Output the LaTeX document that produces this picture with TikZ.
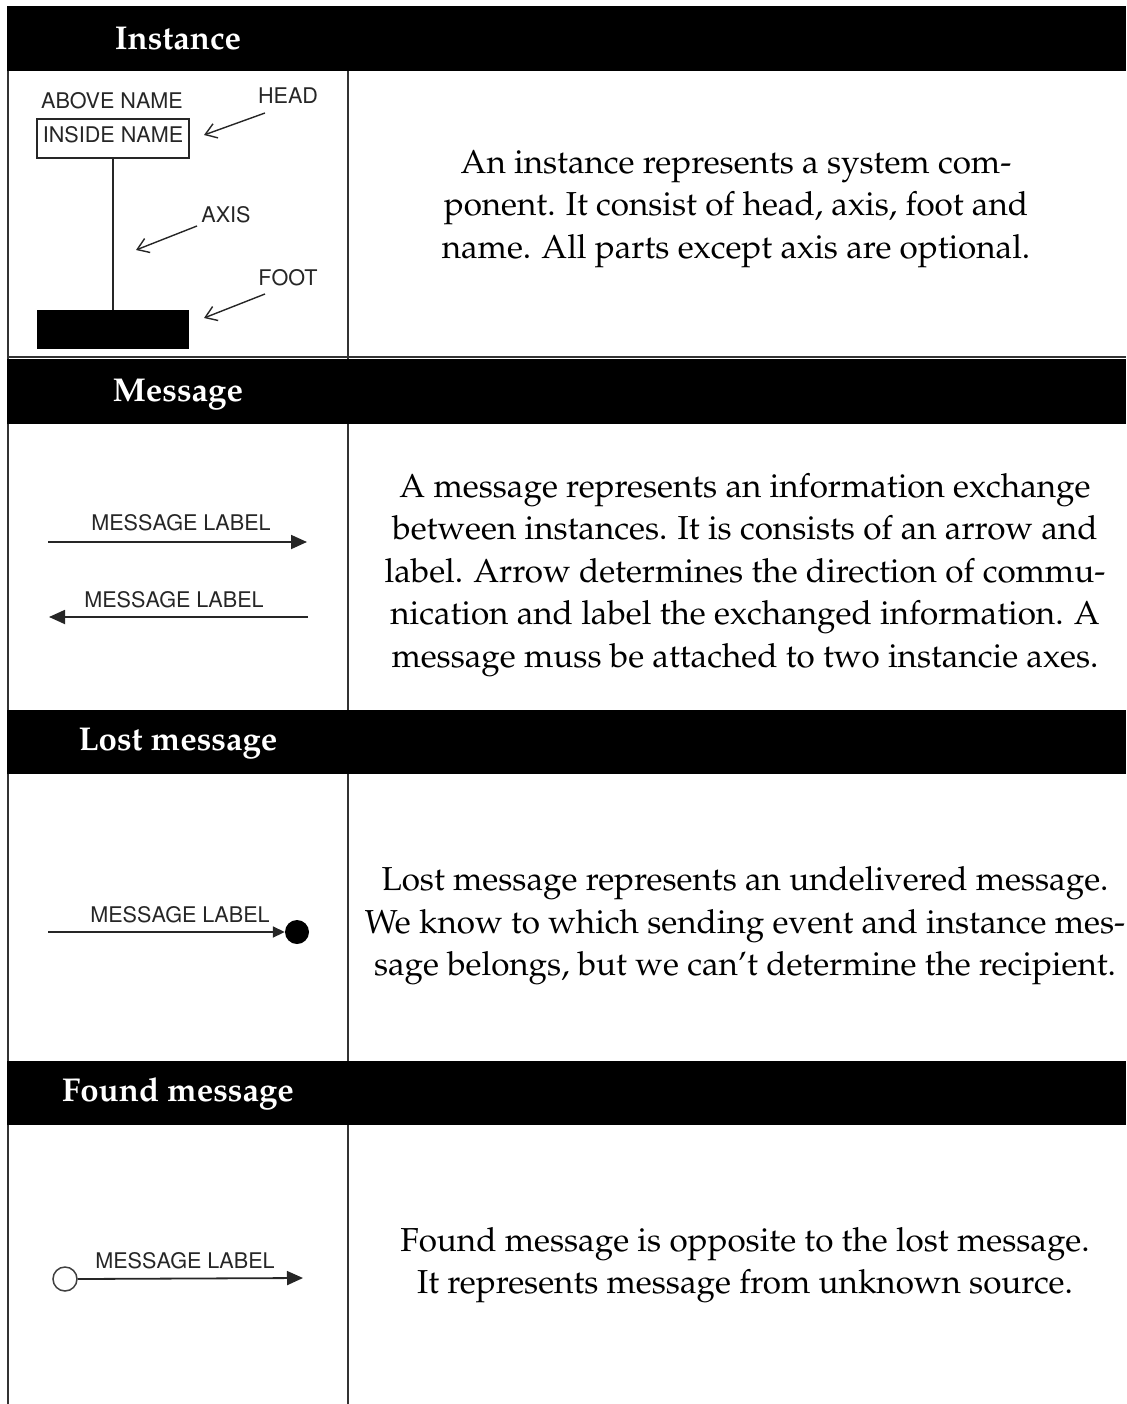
\documentclass[tikz,border=0pt]{standalone}
\usepackage[T1]{fontenc}
\usepackage{mathpazo}
\usepackage{helvet}
\usetikzlibrary{arrows.meta}
\begin{document}
\begin{tikzpicture}[x=1pt,y=-1pt,
  hdrbar/.style={fill=black},
  hdrtext/.style={text=white,anchor=base,inner sep=0pt,font=\fontsize{33}{40}\selectfont\bfseries},
  body/.style={align=center,inner sep=0pt,font=\fontsize{33.2}{42.5}\selectfont},
  lbl/.style={inner sep=0pt,text=black!85,font=\sffamily\fontsize{21.6}{24}\selectfont},
  gridline/.style={draw=black!80,line width=1.5pt},
  wire/.style={draw=black!85,line width=1.8pt},
  pointer/.style={draw=black!85,line width=1.4pt,-{Straight Barb[length=11pt,width=15pt,line width=1.4pt]}},
  msg/.style={draw=black!85,line width=1.8pt,-{Triangle[length=16pt,width=14pt]}},
  headbox/.style={draw=black!85,line width=1.8pt,fill=white,minimum width=152pt,minimum height=39pt,inner sep=0pt},
  footbox/.style={fill=black,minimum width=152pt,minimum height=39pt,inner sep=0pt}
]
\useasboundingbox (0,0) rectangle (1126,1404);

% table frame
\draw[gridline] (8,71) -- (8,1404);
\draw[gridline] (348,71) -- (348,1404);
\draw[gridline] (8,357) -- (1126,357);

% section bars
\fill[hdrbar] (7,6) rectangle (1126,71);
\fill[hdrbar] (7,359) rectangle (1126,424);
\fill[hdrbar] (7,710) rectangle (1126,774);
\fill[hdrbar] (7,1061) rectangle (1126,1125);
\node[hdrtext] (hInstance) at (178,50) {Instance};
\node[hdrtext] (hMessage) at (178,401) {Message};
\node[hdrtext] (hLost) at (178,750) {Lost message};
\node[hdrtext] (hFound) at (178,1101) {Found message};

% instance: head, axis, foot
\node[lbl] (abovename) at (112,101) {ABOVE NAME};
\node[headbox] (head) at (113,138.5) {};
\node[lbl] (insidename) at (113,135) {INSIDE NAME};
\node[footbox] (foot) at (113,329.5) {};
\draw[wire] (head.south) -- (foot.north);

\node[lbl] (headlbl) at (288,96) {HEAD};
\coordinate (headA) at (265,113);
\coordinate (headB) at (204,135);
\draw[pointer] (headA) -- (headB);

\node[lbl] (axislbl) at (226,215) {AXIS};
\coordinate (axisA) at (197,226);
\coordinate (axisB) at (136,250);
\draw[pointer] (axisA) -- (axisB);

\node[lbl] (footlbl) at (288,278) {FOOT};
\coordinate (footA) at (265,294);
\coordinate (footB) at (204,318);
\draw[pointer] (footA) -- (footB);

\node[body] (tInstance) at (736,209) {An instance represents a system com-\\ponent. It consist of head, axis, foot and\\name. All parts except axis are optional.};

% message
\node[lbl] (mlbl1) at (181,523) {MESSAGE LABEL};
\coordinate (m1a) at (48,542);
\coordinate (m1b) at (307,542);
\draw[msg] (m1a) -- (m1b);
\node[lbl] (mlbl2) at (174,600) {MESSAGE LABEL};
\coordinate (m2a) at (308,617);
\coordinate (m2b) at (49,617);
\draw[msg] (m2a) -- (m2b);

\node[body] (tMessage) at (745,575) {A message represents an information exchange\\between instances. It is consists of an arrow and\\label. Arrow determines the direction of commu-\\nication and label the exchanged information. A\\message muss be attached to two instancie axes.};

% lost message
\node[lbl] (llbl) at (180,915) {MESSAGE LABEL};
\coordinate (la) at (48,932);
\node[circle,fill=black,minimum size=24pt,inner sep=0pt] (lostdot) at (297,932) {};
\draw[draw=black!85,line width=1.8pt,-{Triangle[length=12pt,width=11pt]}] (la) -- (lostdot.west);

\node[body] (tLost) at (745,926) {Lost message represents an undelivered message.\\We know to which sending event and instance mes-\\sage belongs, but we can't determine the recipient.};

% found message
\node[circle,draw=black!75,line width=1.5pt,fill=white,minimum size=24pt,inner sep=0pt] (founddot) at (65,1279) {};
\node[lbl] (flbl) at (185,1261) {MESSAGE LABEL};
\coordinate (fb) at (303,1278);
\draw[msg] (founddot.east) -- (fb);

\node[body] (tFound) at (745,1265) {Found message is opposite to the lost message.\\It represents message from unknown source.};
\end{tikzpicture}
\end{document}
